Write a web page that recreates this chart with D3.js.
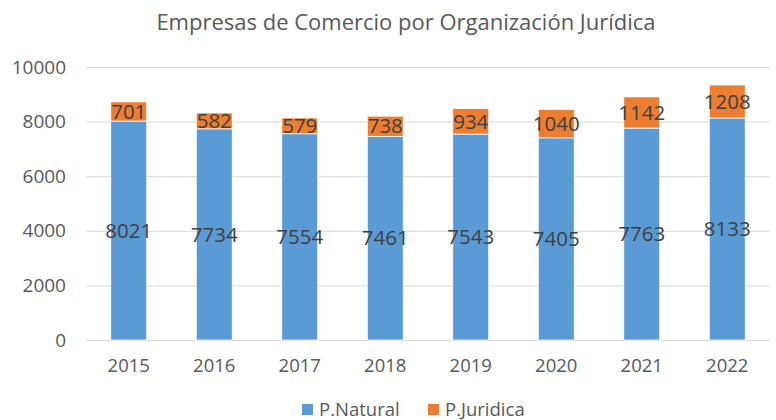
<!DOCTYPE html>
<html>
<head>
<meta charset="utf-8">
<script src="https://cdn.jsdelivr.net/npm/d3@7/dist/d3.min.js"></script>
<style>
  body { margin: 0; background: #fff; }
  text { font-family: "Open Sans", "Noto Sans", sans-serif; }
</style>
</head>
<body>
<svg id="chart" width="776" height="420"></svg>
<script>
// datos
const years = ['2015', '2016', '2017', '2018', '2019', '2020', '2021', '2022']
const natural = [8021, 7734, 7554, 7461, 7543, 7405, 7763, 8133]
const juridica = [701, 582, 579, 738, 934, 1040, 1142, 1208]
const yTicks = [0, 2000, 4000, 6000, 8000, 10000]
const seriesNames = ['P.Natural', 'P.Juridica']
const colors = ['#5b9bd5', '#ed7d31']

const svg = d3.select('#chart')
const margin = { top: 67, right: 6, bottom: 80, left: 86 }
const width = 776 - margin.left - margin.right
const height = 420 - margin.top - margin.bottom

const x = d3.scaleBand().domain(years).range([0, width]).paddingInner(0.58).paddingOuter(0.29)
const y = d3.scaleLinear().domain([0, 10000]).range([height, 0])

const g = svg.append('g').attr('transform', `translate(${margin.left},${margin.top})`)

// titulo
svg.append('text')
  .attr('x', 406).attr('y', 30)
  .attr('text-anchor', 'middle')
  .attr('font-size', 22)
  .attr('fill', '#595959')
  .text('Empresas de Comercio por Organización Jurídica')

// rejilla
g.append('g')
  .call(d3.axisLeft(y).tickValues(yTicks).tickSize(-width).tickPadding(20).tickFormat(d3.format('d')))
  .call(s => s.select('.domain').remove())
  .call(s => s.selectAll('line').attr('stroke', '#d9d9d9'))
  .call(s => s.selectAll('text').attr('fill', '#595959').attr('font-size', 19))

// eje x
g.append('g')
  .attr('transform', `translate(0,${height})`)
  .call(d3.axisBottom(x).tickSize(0).tickPadding(19))
  .call(s => s.select('.domain').remove())
  .call(s => s.selectAll('text').attr('fill', '#595959').attr('font-size', 18.5))

// pila
const rows = years.map((yr, i) => ({ year: yr, natural: natural[i], juridica: juridica[i] }))
const stack = d3.stack().keys(['natural', 'juridica'])(rows)

const layers = g.selectAll('.layer').data(stack).enter()
  .append('g')
  .attr('fill', (d, i) => colors[i])

layers.selectAll('rect').data(d => d).enter()
  .append('rect')
  .attr('x', d => x(d.data.year))
  .attr('width', x.bandwidth())
  .attr('y', d => y(d[1]))
  .attr('height', d => y(d[0]) - y(d[1]))
  .attr('stroke', '#fff')
  .attr('stroke-width', 0.75)

layers.selectAll('text').data(d => d).enter()
  .append('text')
  .attr('x', d => x(d.data.year) + x.bandwidth() / 2)
  .attr('y', d => y((d[0] + d[1]) / 2))
  .attr('dy', '0.35em')
  .attr('text-anchor', 'middle')
  .attr('font-size', 20.5)
  .attr('fill', '#404040')
  .text(d => d[1] - d[0])

// leyenda
const legend = svg.append('g').attr('transform', 'translate(302,416)')
const items = legend.selectAll('g').data(seriesNames).enter()
  .append('g')
  .attr('transform', (d, i) => `translate(${i * 126},0)`)
items.append('rect')
  .attr('x', 0).attr('y', -12).attr('width', 11).attr('height', 11)
  .attr('fill', (d, i) => colors[i])
items.append('text')
  .attr('x', 17).attr('y', 0)
  .attr('font-size', 18.5)
  .attr('fill', '#595959')
  .text(d => d)
</script>
</body>
</html>
